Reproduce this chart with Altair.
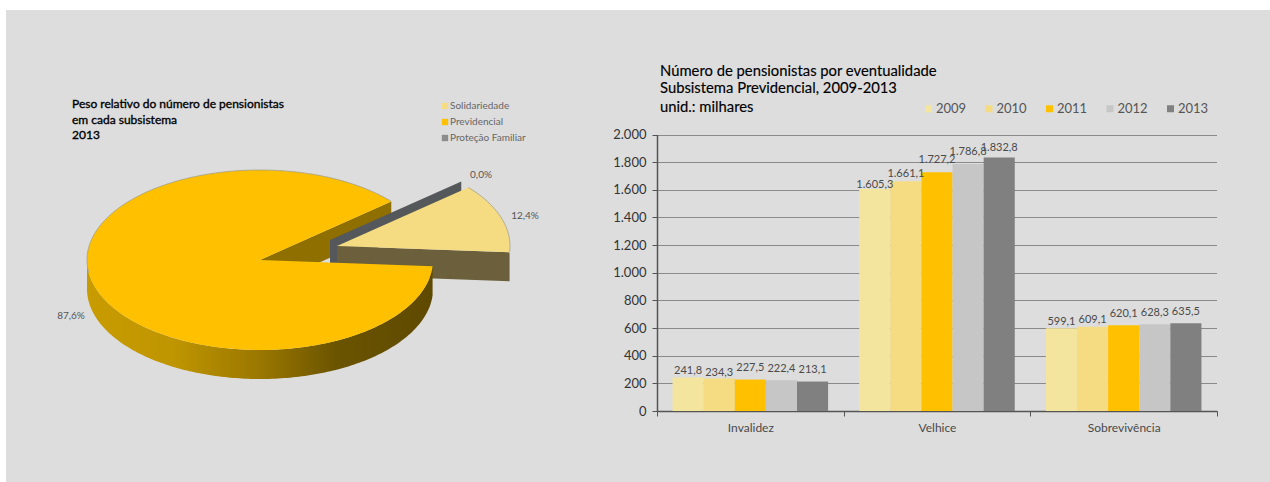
import math
import altair as alt
import pandas as pd

# ---- data ----
subsystems = ["Solidariedade", "Previdencial", "Proteção Familiar"]
subsystem_share = [12.4, 87.6, 0.0]
subsystem_colors = ["#F5DC82", "#FFC000", "#8C8C8C"]

years = ["2009", "2010", "2011", "2012", "2013"]
year_colors = ["#F4E59E", "#F5DC82", "#FFC000", "#C6C6C6", "#808080"]
events = ["Invalidez", "Velhice", "Sobrevivência"]
invalidez = [241.8, 234.3, 227.5, 222.4, 213.1]
velhice = [1605.3, 1661.1, 1727.2, 1786.8, 1832.8]
sobrevivencia = [599.1, 609.1, 620.1, 628.3, 635.5]
# how far each value label sits above its bar, in pixels
lift_invalidez = [7, 5.5, 12, 11, 12]
lift_velhice = [4, 7, 12, 12, 10]
lift_sobrevivencia = [6.5, 7, 11.5, 11.5, 11.5]

FONT = "Lato"
BG = "#DDDDDD"
TEXT = "#4A4A4A"

LEFT_W, LEFT_H = 657, 482
PLOT_W, PLOT_TOP, PLOT_BOTTOM = 560, 134.5, 411
SCALE_PX = (PLOT_BOTTOM - PLOT_TOP) / 2000


def pt(value, decimals=1):
    return f"{value:,.{decimals}f}".replace(",", "§").replace(".", ",").replace("§", ".")


# ---- pie geometry: an elliptical disc seen from above ----
CX, CY, RX, RY, DEPTH = 260, 260, 173, 90, 29
START = -4.0
sol_end = START + subsystem_share[0] * 3.6


def on_rim(deg, cx=CX, cy=CY, drop=0):
    a = math.radians(deg)
    return [cx + RX * math.cos(a), cy - RY * math.sin(a) + drop]


def sweep(a0, a1, cx=CX, cy=CY, drop=0, step=1.0):
    n = max(2, int(abs(a1 - a0) / step) + 1)
    return [on_rim(a0 + (a1 - a0) * i / (n - 1), cx, cy, drop) for i in range(n)]


def polygon(points, **props):
    ring = [list(p) for p in points] + [list(points[0])]
    return {"type": "Feature", "properties": props,
            "geometry": {"type": "Polygon", "coordinates": [ring]}}


def polyline(points):
    return {"type": "Feature", "properties": {},
            "geometry": {"type": "LineString", "coordinates": [list(p) for p in points]}}


SOL_X, SOL_Y = CX + 77, CY - 14        # exploded Solidariedade slice
FAM_X, FAM_Y = CX + 70, CY - 20        # exploded, empty Proteção Familiar slice

main_arc = sweep(sol_end, START + 360)
sol_arc = sweep(START, sol_end, SOL_X, SOL_Y)

top_faces = [
    polygon([[SOL_X, SOL_Y]] + sol_arc, name=subsystems[0]),
    polygon([[CX, CY]] + main_arc, name=subsystems[1]),
]
family_wall = polygon([[FAM_X, FAM_Y], on_rim(sol_end, FAM_X, FAM_Y),
                       on_rim(sol_end, FAM_X, FAM_Y, DEPTH), [FAM_X, FAM_Y + DEPTH]])
sol_wall = polygon([[SOL_X, SOL_Y], on_rim(START, SOL_X, SOL_Y),
                    on_rim(START, SOL_X, SOL_Y, DEPTH), [SOL_X, SOL_Y + DEPTH]])
cut_wall = polygon([[CX, CY], on_rim(sol_end), on_rim(sol_end, drop=DEPTH), [CX, CY + DEPTH]])
front_top = sweep(180, 360 + START)
front_bottom = sweep(180, 360 + START, drop=DEPTH)
outer_wall = polygon(front_top + front_bottom[::-1])
# only the far edge of the disc carries a thin outline
rims = [polyline(sweep(sol_end, 188)), polyline(sol_arc)]


def shape(features, **mark):
    return (
        alt.Chart(alt.Data(values=features))
        .mark_geoshape(**mark)
        .project(type="identity", scale=1, translate=[0, 0])
    )


wall_gradient = alt.LinearGradient(
    gradient="linear", x1=0, x2=1, y1=0, y2=0,
    stops=[
        alt.GradientStop(offset=0, color="#C89C00"),
        alt.GradientStop(offset=0.25, color="#BF9500"),
        alt.GradientStop(offset=0.5, color="#9A7700"),
        alt.GradientStop(offset=0.72, color="#6B5400"),
        alt.GradientStop(offset=1, color="#5E4900"),
    ],
)

faces = shape(top_faces, strokeWidth=0).encode(
    color=alt.Color(
        "properties.name:N",
        scale=alt.Scale(domain=subsystems, range=subsystem_colors),
        legend=alt.Legend(
            title=None, orient="none", legendX=440, legendY=101, padding=0,
            symbolType="square", symbolSize=40, symbolStrokeWidth=0, rowPadding=6,
            labelFont=FONT, labelFontSize=10, labelColor="#666666", labelOffset=0,
        ),
    )
)


def label_layer(rows, **mark):
    return alt.Chart(pd.DataFrame(rows)).mark_text(font=FONT, **mark).encode(
        x=alt.X("x:Q", scale=alt.Scale(domain=[0, LEFT_W], nice=False, zero=False), axis=None),
        y=alt.Y("y:Q", scale=alt.Scale(domain=[LEFT_H, 0], nice=False, zero=False), axis=None),
        text="t:N",
    )


pie_labels = label_layer(
    [
        {"x": 71, "y": 316, "t": pt(subsystem_share[1]) + "%"},
        {"x": 525, "y": 216, "t": pt(subsystem_share[0]) + "%"},
        {"x": 481, "y": 175, "t": pt(subsystem_share[2]) + "%"},
    ],
    fontSize=10, color="#555555", align="center", baseline="middle",
)
pie_titles = label_layer(
    [
        {"x": 72, "y": 104, "t": "Peso relativo do número de pensionistas"},
        {"x": 72, "y": 120, "t": "em cada subsistema"},
        {"x": 72, "y": 135, "t": "2013"},
    ],
    fontSize=12, color="#000000", align="left", baseline="middle",
    stroke="#000000", strokeWidth=0.35,
)

white_left = alt.Chart(pd.DataFrame({"a": [0]})).mark_rect(color="white").encode(
    x=alt.value(0), x2=alt.value(6), y=alt.value(0), y2=alt.value(LEFT_H))
white_top = alt.Chart(pd.DataFrame({"a": [0]})).mark_rect(color="white").encode(
    x=alt.value(0), x2=alt.value(LEFT_W), y=alt.value(0), y2=alt.value(10))

left = alt.layer(
    white_left, white_top,
    shape([cut_wall], fill="#8F6F00", strokeWidth=0),
    shape([family_wall], fill="#55585A", strokeWidth=0),
    shape([sol_wall], fill="#6B5F3C", strokeWidth=0),
    shape([outer_wall], fill=wall_gradient, strokeWidth=0),
    faces,
    shape(rims, filled=False, stroke="#A39F8C", strokeWidth=0.8),
    pie_labels, pie_titles,
).resolve_scale(color="independent").properties(width=LEFT_W, height=LEFT_H)

# ---- grouped bars ----
rows = []
for event, vals, lifts in zip(events, [invalidez, velhice, sobrevivencia],
                              [lift_invalidez, lift_velhice, lift_sobrevivencia]):
    for year, v, lift in zip(years, vals, lifts):
        rows.append({"Eventualidade": event, "Ano": year, "valor": v,
                     "rotulo": pt(v), "ancora": v + lift / SCALE_PX})
bars_df = pd.DataFrame(rows)

# each category fills its whole band, so the axis ticks fall between the groups;
# the gap around a group comes from the outer padding of the year offsets
x_enc = alt.X(
    "Eventualidade:N", sort=events, title=None,
    scale=alt.Scale(paddingInner=0, paddingOuter=0),
    axis=alt.Axis(
        labelFont=FONT, labelFontSize=12, labelColor=TEXT, labelAngle=0, labelPadding=6,
        domainColor="#555555", domainWidth=1.5, tickColor="#555555", tickWidth=1,
        tickSize=5, tickBand="extent", grid=False,
    ),
)
x_off = alt.XOffset("Ano:N", sort=years, scale=alt.Scale(paddingInner=0, paddingOuter=0.5))
y_scale = alt.Scale(domain=[0, 2000], range=[PLOT_BOTTOM, PLOT_TOP], nice=False)

bars = alt.Chart(bars_df).mark_bar(size=31.1).encode(
    x=x_enc, xOffset=x_off,
    y=alt.Y(
        "valor:Q", scale=y_scale, title=None,
        axis=alt.Axis(
            values=list(range(0, 2001, 200)),
            labelExpr="replace(format(datum.value, ','), ',', '.')",
            labelFont=FONT, labelFontSize=13, labelColor="#333333", labelPadding=6,
            domainColor="#555555", domainWidth=1.5, tickColor="#555555", tickSize=5,
            grid=True, gridColor="#8A8A8A", gridWidth=1.2,
        ),
    ),
    color=alt.Color(
        "Ano:N", sort=years,
        scale=alt.Scale(domain=years, range=year_colors),
        legend=alt.Legend(
            title=None, orient="none", direction="horizontal", columns=5,
            legendX=265, legendY=102, padding=0,
            symbolType="square", symbolSize=49, symbolStrokeWidth=0, columnPadding=15.5,
            labelFont=FONT, labelFontSize=13, labelColor="#555555", labelOffset=1,
        ),
    ),
)
bar_labels = alt.Chart(bars_df).mark_text(
    font=FONT, fontSize=11, color=TEXT, baseline="middle", align="center"
).encode(
    x=x_enc, xOffset=x_off,
    y=alt.Y("ancora:Q", scale=y_scale, axis=None),
    text="rotulo:N",
)

heading_df = pd.DataFrame({
    "t": ["Número de pensionistas por eventualidade",
          "Subsistema Previdencial, 2009-2013",
          "unid.: milhares"],
    "linha": [72, 89, 108],
})
heading = alt.Chart(heading_df).mark_text(
    font=FONT, fontSize=14.8, color="#000000", align="left", baseline="middle",
    stroke="#000000", strokeWidth=0.15,
).encode(
    x=alt.value(3),
    y=alt.Y("linha:Q", scale=alt.Scale(domain=[0, PLOT_BOTTOM], range=[0, PLOT_BOTTOM], nice=False), axis=None),
    text="t:N",
)

# white band along the top and the grey margin to the right of the plot
white_top_r = alt.Chart(pd.DataFrame({"a": [0]})).mark_rect(color="white").encode(
    x=alt.value(0), x2=alt.value(613), y=alt.value(0), y2=alt.value(10))
right_margin = alt.Chart(pd.DataFrame({"a": [0]})).mark_rect(color=BG).encode(
    x=alt.value(PLOT_W), x2=alt.value(613), y=alt.value(10), y2=alt.value(PLOT_BOTTOM))

right = alt.layer(white_top_r, right_margin, bars, bar_labels, heading).resolve_scale(
    y="independent"
).properties(width=PLOT_W, height=PLOT_BOTTOM)

chart = (
    alt.hconcat(left, right, spacing=0, bounds="flush")
    .resolve_scale(color="independent")
    .properties(padding=0, background=BG)
    .configure_view(stroke=None)
)

chart.save("out.html", embed_options={"renderer": "svg", "actions": False})
